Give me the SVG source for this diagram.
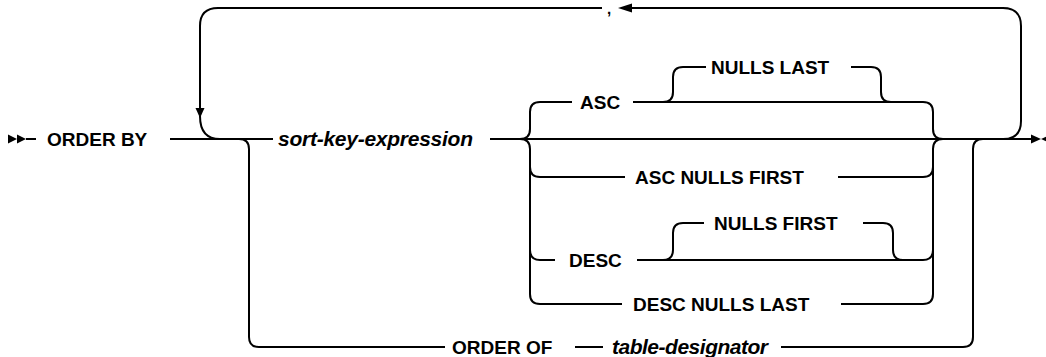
<svg xmlns="http://www.w3.org/2000/svg" width="1046" height="357" viewBox="0 0 1046 357">
<style>
.ln{fill:none;stroke:#000;stroke-width:2}
.ah{fill:#000;stroke:none}
.kw{font-family:"Liberation Sans",Arial,sans-serif;font-size:19px;font-weight:bold;fill:#000}
.cm{font-family:"Liberation Sans",Arial,sans-serif;font-size:15px;font-weight:bold;fill:#000}
.var{font-family:"Liberation Sans",Arial,sans-serif;font-size:21px;font-weight:bold;font-style:italic;fill:#000}
</style>
<rect width="1046" height="357" fill="#fff"/>
<g id="connectors">
<polygon class="ah" points="8,134.5 17,139 8,143.5"/>
<polygon class="ah" points="17,134.5 26,139 17,143.5"/>
<path class="ln" d="M26,139 H36"/>
<path class="ln" d="M170,139 H273"/>
<path class="ln" d="M1003,139 Q1021,139 1021,121 V26 Q1021,8 1003,8 H630"/>
<polygon class="ah" points="618,8 632,3.5 632,12.5"/>
<path class="ln" d="M602,8 H218 Q200,8 200,26 V110"/>
<polygon class="ah" points="195.5,108 204.5,108 200,118"/>
<path class="ln" d="M200,116 Q200,139 220,139"/>
<path class="ln" d="M239,139 Q249,139 249,149 V337 Q249,347 259,347 H445"/>
<path class="ln" d="M575,347 H603"/>
<path class="ln" d="M781,347 H963 Q973,347 973,337 V149 Q973,139 983,139"/>
<path class="ln" d="M490,139 H1031"/>
<path class="ln" d="M520,139 Q530,139 530,129 V112 Q530,102 540,102 H572"/>
<path class="ln" d="M520,139 Q530,139 530,149 V294 Q530,304 540,304 H622"/>
<path class="ln" d="M530,167 Q530,177 540,177 H625"/>
<path class="ln" d="M530,250 Q530,260 540,260 H555"/>
<path class="ln" d="M633,102 H923 Q933,102 933,112 V129 Q933,139 943,139"/>
<path class="ln" d="M663,102 Q673,102 673,92 V77 Q673,67 683,67 H706"/>
<path class="ln" d="M851,67 H871 Q881,67 881,77 V92 Q881,102 891,102"/>
<path class="ln" d="M838,177 H923 Q933,177 933,167"/>
<path class="ln" d="M637,260 H923 Q933,260 933,250"/>
<path class="ln" d="M663,260 Q673,260 673,250 V233 Q673,223 683,223 H704"/>
<path class="ln" d="M863,223 H883 Q893,223 893,233 V250 Q893,260 903,260"/>
<path class="ln" d="M841,304 H923 Q933,304 933,294 V149 Q933,139 943,139"/>
<polygon class="ah" points="1031,134.5 1041,139 1031,143.5"/>
<polygon class="ah" points="1051,134.5 1041,139 1051,143.5"/>
</g>
<g id="order-by"><text class="kw" x="47" y="146">ORDER BY</text></g>
<g id="sort-key-expression"><text class="var" x="278" y="146" textLength="195" lengthAdjust="spacing">sort-key-expression</text></g>
<g id="comma"><text class="cm" x="607" y="14">,</text></g>
<g id="asc"><text class="kw" x="580" y="109">ASC</text></g>
<g id="nulls-last-1"><text class="kw" x="711" y="74">NULLS LAST</text></g>
<g id="asc-nulls-first"><text class="kw" x="635" y="184">ASC NULLS FIRST</text></g>
<g id="desc"><text class="kw" x="569" y="267">DESC</text></g>
<g id="nulls-first-1"><text class="kw" x="714" y="230">NULLS FIRST</text></g>
<g id="desc-nulls-last"><text class="kw" x="633" y="311">DESC NULLS LAST</text></g>
<g id="order-of"><text class="kw" x="452" y="354">ORDER OF</text></g>
<g id="table-designator"><text class="var" x="612" y="354" textLength="156" lengthAdjust="spacing">table-designator</text></g>
</svg>
